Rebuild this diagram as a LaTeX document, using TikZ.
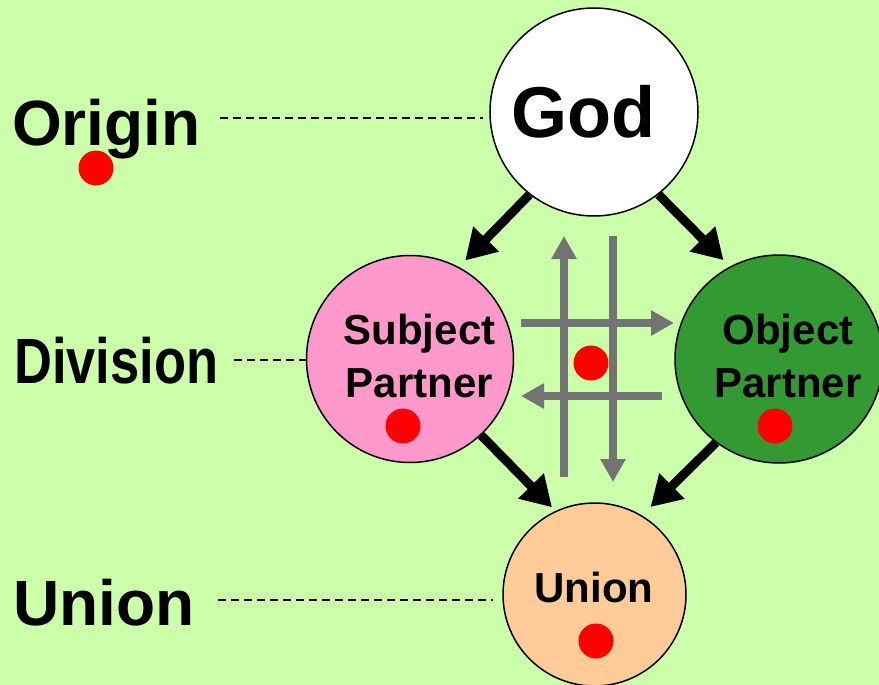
\documentclass[tikz,border=0pt]{standalone}
\usepackage{fontspec}
\setmainfont{Liberation Sans}
\usepackage{graphicx}
\usetikzlibrary{arrows.meta,calc}
\definecolor{bg}{HTML}{CCFFAA}
\definecolor{pinkc}{HTML}{FF99CC}
\definecolor{greenc}{HTML}{339933}
\definecolor{peachc}{HTML}{FFCC99}
\definecolor{dotc}{HTML}{FF0000}
\definecolor{grayc}{HTML}{737373}
\begin{document}
\begin{tikzpicture}[x=1pt,y=-1pt,
  circ/.style={circle, draw=black, line width=1.5pt, inner sep=0pt, minimum size=#1},
  bigtxt/.style={font=\fontsize{64}{72}\selectfont\bfseries, inner sep=0pt, anchor=base west},
  intxt/.style={font=\fontsize{42}{53}\selectfont\bfseries, inner sep=0pt, align=center, anchor=base},
  reddot/.style={circle, fill=dotc, inner sep=0pt, minimum size=35pt},
  blackarr/.style={line width=9pt, -{Triangle[width=34pt,length=30pt]}},
  grayarr/.style={draw=grayc, line width=8pt, -{Triangle[width=24pt,length=23pt]}},
  dashln/.style={line width=1.2pt, dash pattern=on 8pt off 5pt}]
\useasboundingbox (0,0) rectangle (879,685);
\clip (0,0) rectangle (879,685);
\fill[bg] (0,0) rectangle (879,685);

% circles
\node[circ=208pt, fill=white] (god) at (594,112) {};
\node[circ=207pt, fill=pinkc] (subj) at (410,359) {};
\node[circ=208pt, fill=greenc] (obj) at (779,359) {};
\node[circ=183pt, fill=peachc] (union) at (594.5,594.5) {};

% texts in circles
\node[font=\fontsize{72}{80}\selectfont\bfseries, inner sep=0pt, anchor=base] (godlbl) at (583,137) {God};
\node[intxt] (subjlbl) at (419.5,397) {Subject\\Partner};
\node[intxt] (objlbl) at (788,397) {Object\\Partner};
\node[intxt] (unionlbl) at (594,602) {Union};

% side labels
\node[bigtxt] (origin) at (12,145) {Origin};
\node[bigtxt] (division) at (14,383) {\scalebox{0.82}[1]{Division}};
\node[bigtxt] (unionside) at (13,625) {Union};

% dashed leaders
\coordinate (od) at (220,118);
\coordinate (dd) at (234,360);
\coordinate (ud) at (218,600);
\draw[dashln] (od) -- ([xshift=-6pt]od -| god.west);
\draw[dashln] (dd) -- (dd -| subj.west);
\draw[dashln] (ud) -- ([xshift=-9pt]ud -| union.west);

% gray arrows
\coordinate (ua1) at (564,477); \coordinate (ua2) at (564,236);
\coordinate (da1) at (613,236); \coordinate (da2) at (613,482);
\coordinate (ra1) at (521,323); \coordinate (ra2) at (674,323);
\coordinate (la1) at (662,396); \coordinate (la2) at (521,396);
\draw[grayarr] (ua1) -- (ua2);
\draw[grayarr] (da1) -- (da2);
\draw[grayarr] (ra1) -- (ra2);
\draw[grayarr] (la1) -- (la2);

% black arrows
\draw[blackarr, shorten >=9pt] (god.232) -- (subj.62);
\draw[blackarr, shorten >=9pt] (god.308) -- (obj.118);
\draw[blackarr, shorten >=5pt] (subj.313) -- (union.115);
\draw[blackarr, shorten >=12pt] (obj.233) -- (union.59);

% red dots
\node[reddot] (dot1) at (96,168) {};
\node[reddot] (dot2) at (403,426) {};
\node[reddot] (dot3) at (775,426) {};
\node[reddot] (dot4) at (596,641) {};
\node[reddot] (dot5) at (591,363) {};
\end{tikzpicture}
\end{document}
